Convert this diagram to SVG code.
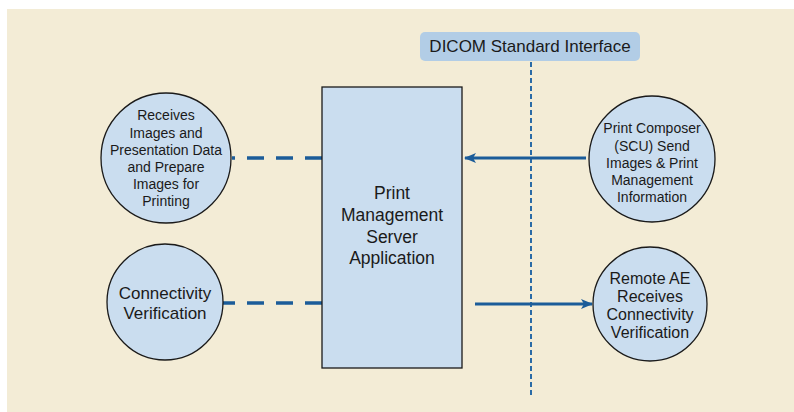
<svg xmlns="http://www.w3.org/2000/svg" width="794" height="412" viewBox="0 0 794 412">
<defs>
<style>
.bg{fill:#F3ECD6}
.node{fill:#CADDEF;stroke:#1a1a1a;stroke-width:1.3}
.t{font-family:"Liberation Sans",Arial,sans-serif;fill:#1a1a1a;text-anchor:middle}
.dash{stroke:#1B5C99;stroke-width:3.5;fill:none;stroke-dasharray:17 12}
.solid{stroke:#1B5C99;stroke-width:3;fill:none}
.vdash{stroke:#2A6BA6;stroke-width:2;fill:none;stroke-dasharray:5 3}
</style>
<marker id="ah" markerWidth="12" markerHeight="10" refX="11" refY="5" orient="auto" markerUnits="userSpaceOnUse">
<path d="M0,0 L12,5 L0,10 L3,5 Z" fill="#1B5C99"/>
</marker>
</defs>
<rect class="bg" x="7" y="9" width="787" height="403"/>
<g id="connectors">
<line class="vdash" x1="531" y1="62" x2="531" y2="397"/>
<line class="dash" x1="322" y1="158" x2="232" y2="158"/>
<line class="dash" x1="322" y1="303" x2="223" y2="303"/>
<line class="solid" x1="586" y1="158" x2="465" y2="158" marker-end="url(#ah)"/>
<line class="solid" x1="475" y1="304" x2="592" y2="304" marker-end="url(#ah)"/>
</g>
<g id="dicom-label">
<rect x="420" y="32" width="220" height="29" rx="5" fill="#B2CDE6"/>
<text class="t" x="530" y="52" font-size="17">DICOM Standard Interface</text>
</g>
<g id="server">
<rect class="node" x="322" y="87" width="140" height="281"/>
<text class="t" font-size="17.5"><tspan x="392" y="199">Print</tspan><tspan x="392" y="221">Management</tspan><tspan x="392" y="243">Server</tspan><tspan x="392" y="264">Application</tspan></text>
</g>
<g id="receives">
<circle class="node" cx="166" cy="158" r="65"/>
<text class="t" font-size="14"><tspan x="166" y="120">Receives</tspan><tspan x="166" y="138">Images and</tspan><tspan x="166" y="155">Presentation Data</tspan><tspan x="166" y="172">and Prepare</tspan><tspan x="166" y="189">Images for</tspan><tspan x="166" y="206">Printing</tspan></text>
</g>
<g id="connectivity">
<circle class="node" cx="165" cy="302" r="58"/>
<text class="t" font-size="17"><tspan x="165" y="299">Connectivity</tspan><tspan x="165" y="319">Verification</tspan></text>
</g>
<g id="composer">
<circle class="node" cx="652" cy="159" r="63"/>
<text class="t" font-size="14"><tspan x="652" y="133">Print Composer</tspan><tspan x="652" y="151">(SCU) Send</tspan><tspan x="652" y="168">Images &amp; Print</tspan><tspan x="652" y="185">Management</tspan><tspan x="652" y="202">Information</tspan></text>
</g>
<g id="remote">
<circle class="node" cx="650" cy="304" r="57"/>
<text class="t" font-size="16"><tspan x="650" y="284">Remote AE</tspan><tspan x="650" y="302">Receives</tspan><tspan x="650" y="320">Connectivity</tspan><tspan x="650" y="338">Verification</tspan></text>
</g>
</svg>
